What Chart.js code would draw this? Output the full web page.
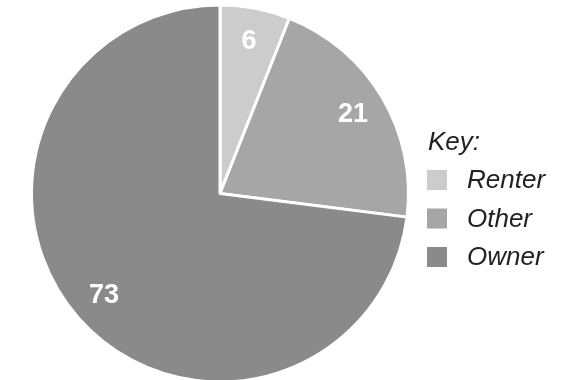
<!DOCTYPE html>
<html>
<head>
<meta charset="utf-8">
<script src="https://cdn.jsdelivr.net/npm/chart.js@4"></script>
<style>
html,body{margin:0;padding:0;background:#fff;overflow:hidden;}
#wrap{position:relative;width:579px;height:380px;overflow:hidden;}
canvas{display:block;}
</style>
</head>
<body>
<div id="wrap"><canvas id="c" width="579" height="390"></canvas></div>
<script>
const categories = ["Renter", "Other", "Owner"];
const values = [6, 21, 73];
const colors = ["#cccccc", "#a6a6a6", "#8a8a8a"];
const legendTitle = "Key:";

const labelPlugin = {
  id: "sliceLabels",
  afterDatasetsDraw(chart) {
    const ctx = chart.ctx;
    const meta = chart.getDatasetMeta(0);
    ctx.save();
    ctx.fillStyle = "#ffffff";
    ctx.font = "bold 27px 'Liberation Sans', Arial, sans-serif";
    ctx.textAlign = "center";
    ctx.textBaseline = "middle";
    meta.data.forEach((arc, i) => {
      const p = arc.getProps(["x", "y", "startAngle", "endAngle", "outerRadius"], true);
      const mid = (p.startAngle + p.endAngle) / 2;
      const r = p.outerRadius * 0.82;
      ctx.fillText(String(values[i]), p.x + Math.cos(mid) * r, p.y + Math.sin(mid) * r);
    });
    ctx.restore();
  }
};

const keyPlugin = {
  id: "keyLegend",
  afterDraw(chart) {
    const ctx = chart.ctx;
    ctx.save();
    ctx.fillStyle = "#222222";
    ctx.font = "italic 300 26px 'Liberation Sans', Arial, sans-serif";
    ctx.textAlign = "left";
    ctx.textBaseline = "middle";
    ctx.fillText(legendTitle, 428, 143);
    categories.forEach((c, i) => {
      const y = 180 + i * 38.5;
      ctx.fillStyle = colors[i];
      ctx.fillRect(427, y - 10, 20, 20);
      ctx.fillStyle = "#222222";
      ctx.fillText(c, 467, y + 1);
    });
    ctx.restore();
  }
};

new Chart(document.getElementById("c"), {
  type: "pie",
  data: {
    labels: categories,
    datasets: [{
      data: values,
      backgroundColor: colors,
      borderColor: "#ffffff",
      borderWidth: 3
    }]
  },
  options: {
    responsive: false,
    animation: false,
    layout: { padding: { left: 30, right: 169, top: 3.5, bottom: 6.5 } },
    plugins: { legend: { display: false }, tooltip: { enabled: false } }
  },
  plugins: [labelPlugin, keyPlugin]
});
</script>
</body>
</html>
